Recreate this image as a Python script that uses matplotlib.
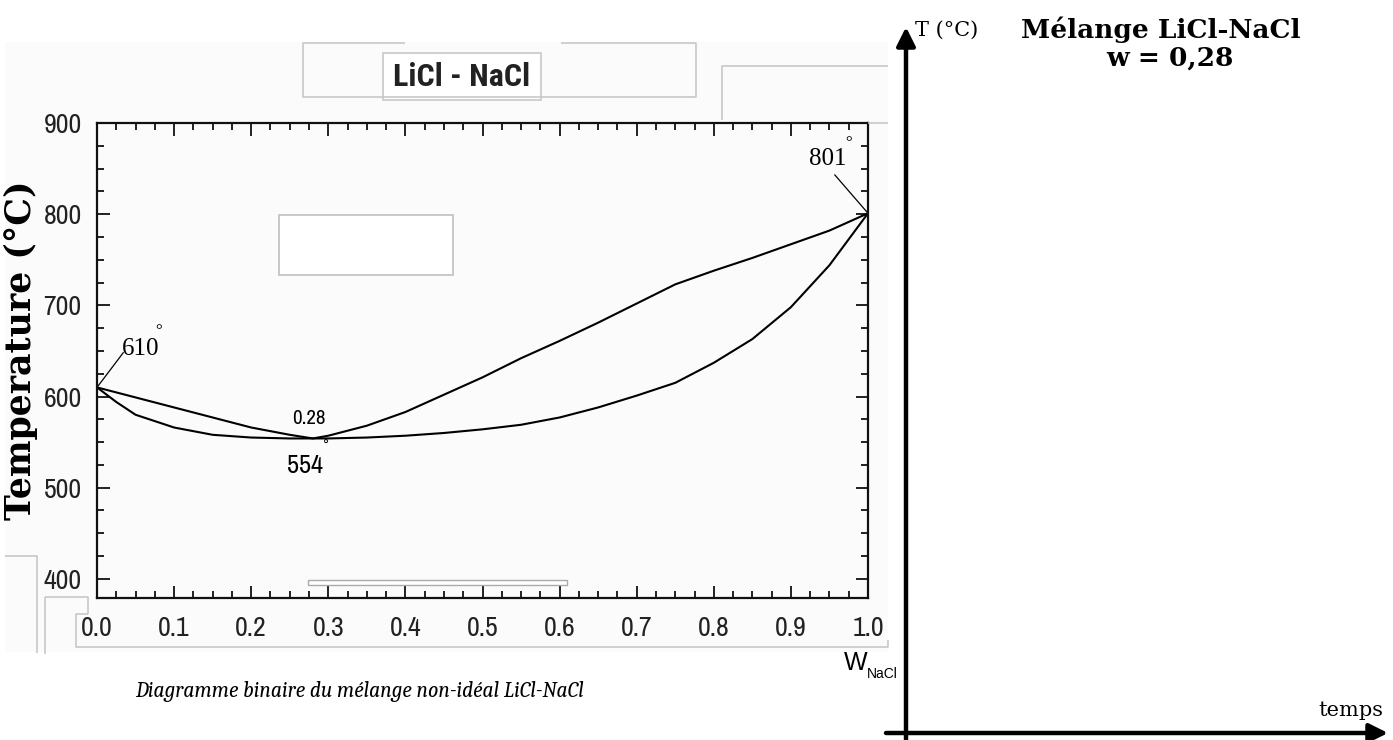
import matplotlib.pyplot as plt
from matplotlib.patches import Rectangle
from matplotlib.ticker import MultipleLocator

# LiCl-NaCl phase diagram (mass fraction of NaCl)
w_liquidus = [0.00, 0.05, 0.10, 0.15, 0.20, 0.25, 0.28, 0.30, 0.35, 0.40, 0.45,
              0.50, 0.55, 0.60, 0.65, 0.70, 0.75, 0.80, 0.85, 0.90, 0.95, 1.00]
T_liquidus = [610, 599, 588, 577, 566, 558, 554, 557, 568, 583, 602,
              621, 642, 661, 681, 702, 723, 738, 752, 767, 782, 801]

w_solidus = [0.00, 0.025, 0.05, 0.10, 0.15, 0.20, 0.25, 0.28, 0.30, 0.35, 0.40, 0.45,
             0.50, 0.55, 0.60, 0.65, 0.70, 0.75, 0.80, 0.85, 0.90, 0.95, 1.00]
T_solidus = [610, 594, 580, 566, 558, 555, 554, 554, 554, 555, 557, 560,
             564, 569, 577, 588, 601, 615, 637, 663, 698, 744, 801]

T_LiCl = 610
T_NaCl = 801
w_azeo = 0.28
T_azeo = 554

x_ticks = [0.0, 0.1, 0.2, 0.3, 0.4, 0.5, 0.6, 0.7, 0.8, 0.9, 1.0]
y_ticks = [400, 500, 600, 700, 800, 900]

W, H = 1393, 740
NARROW = ['Archivo Narrow', 'PT Sans Narrow', 'Roboto Condensed', 'DejaVu Sans']
BOLD_NARROW = ['Roboto Condensed', 'Open Sans Condensed', 'DejaVu Sans']
TIMES = ['Liberation Serif', 'DejaVu Serif']
CAMBRIA = ['Caladea', 'DejaVu Serif']
GREY = '#c4c4c4'


def fr(px, py):
    return px / W, 1 - py / H


fig = plt.figure(figsize=(W / 100, H / 100), dpi=100)
fig.patch.set_facecolor('white')

# background layer in pixel units
back = fig.add_axes([0, 0, 1, 1], zorder=0)
back.set_xlim(0, W)
back.set_ylim(H, 0)
back.axis('off')
back.add_patch(Rectangle((5, 42), 883, 610, facecolor='#fbfbfb', edgecolor='none'))

# main diagram
x0, y1 = fr(97, 598)
x1, y0 = fr(868, 123)
ax = fig.add_axes([x0, y1, x1 - x0, y0 - y1], zorder=2)
ax.set_facecolor('#fbfbfb')
ax.plot(w_liquidus, T_liquidus, color='black', lw=1.5)
ax.plot(w_solidus, T_solidus, color='black', lw=1.5)
ax.set_xlim(0, 1)
ax.set_ylim(379, 900)
ax.set_xticks(x_ticks)
ax.set_yticks(y_ticks)
ax.set_xticklabels([f'{v:.1f}' for v in x_ticks], family=NARROW, fontsize=20, color='#222222')
ax.set_yticklabels([str(v) for v in y_ticks], family=NARROW, fontsize=20, color='#222222')
ax.xaxis.set_minor_locator(MultipleLocator(0.025))
ax.yaxis.set_minor_locator(MultipleLocator(25))
ax.tick_params(which='both', direction='in', top=True, right=True, width=1.3, color='#111111')
ax.tick_params(which='major', length=9)
ax.tick_params(which='minor', length=5)
ax.tick_params(axis='x', which='major', pad=13)
ax.tick_params(axis='y', which='major', pad=11)
for s in ax.spines.values():
    s.set_linewidth(1.6)
    s.set_color('#111111')

# pure component and azeotrope labels
ax.plot([0, 0.034], [T_LiCl, 648], color='black', lw=0.9)
ax.text(0.057, 652, f'{T_LiCl}', family=TIMES, fontsize=18, ha='center', va='center')
ax.text(0.080, 672, '°', family=TIMES, fontsize=12, ha='center', va='center')
ax.plot([1.0, 0.957], [T_NaCl, 843], color='black', lw=0.9)
ax.text(0.948, 860, f'{T_NaCl}', family=TIMES, fontsize=18, ha='center', va='center')
ax.text(0.975, 878, '°', family=TIMES, fontsize=12, ha='center', va='center')
ax.text(w_azeo - 0.005, 576, f'{w_azeo}', family=NARROW, fontsize=15, ha='center', va='center')
ax.text(w_azeo - 0.01, 524, f'{T_azeo}', family=NARROW, fontsize=19, ha='center', va='center')
ax.text(w_azeo + 0.017, 546, '°', family=NARROW, fontsize=11, ha='center', va='center')

ax.set_ylabel('Temperature (°C)', family='DejaVu Serif', fontweight='bold', fontsize=25)
ax.yaxis.set_label_coords((38 - 97) / 771, (598 - 350) / 475)

# frames and overlays drawn above the diagram
front = fig.add_axes([0, 0, 1, 1], zorder=3)
front.set_xlim(0, W)
front.set_ylim(H, 0)
front.axis('off')


def seg(xs, ys):
    front.plot(xs, ys, color=GREY, lw=1.1, solid_capstyle='butt')


# title frame
seg([405, 303, 303, 696, 696, 561], [43, 43, 97, 97, 43, 43])
front.add_patch(Rectangle((383, 53), 158, 47, facecolor='white', edgecolor=GREY, lw=1.1))
front.text(462, 77, 'LiCl - NaCl', family=BOLD_NARROW, fontweight='bold', fontsize=23,
           color='#222222', ha='center', va='center')
seg([888, 722, 722], [66, 66, 120])
seg([868, 888], [123, 123])

# empty boxes inside the diagram
front.add_patch(Rectangle((279, 215), 174, 60, facecolor='white', edgecolor=GREY, lw=1.3))
front.add_patch(Rectangle((308, 580), 259, 5, facecolor='white', edgecolor='#aaaaaa', lw=1.0))

# tick label strip
seg([5, 37, 37], [556, 556, 653])
seg([45, 88, 88], [597, 597, 614])
seg([45, 45], [597, 654])
seg([88, 76, 76, 888, 888], [614, 614, 647, 647, 640])

front.text(856, 663, 'W', family='Liberation Sans', fontsize=18, ha='center', va='center')
front.text(867, 674, 'NaCl', family='Liberation Sans', fontsize=10, ha='left', va='center')
front.text(359, 692, 'Diagramme binaire du mélange non-idéal LiCl-NaCl',
           family=CAMBRIA, style='italic', fontsize=15.5, ha='center', va='center')

# empty cooling-curve frame on the right
arrow = dict(arrowstyle='-|>', lw=3.2, color='black', mutation_scale=28, shrinkA=0, shrinkB=0)
front.annotate('', xy=(906, 27), xytext=(906, 742), arrowprops=arrow)
front.annotate('', xy=(1388, 733), xytext=(886, 733), arrowprops=arrow)
front.text(947, 30, 'T (°C)', family='DejaVu Serif', fontsize=15, ha='center', va='center')
front.text(1383, 710, 'temps', family='DejaVu Serif', fontsize=15, ha='right', va='center')
front.text(1161, 30, 'Mélange LiCl-NaCl', family='DejaVu Serif', fontweight='bold',
           fontsize=19, ha='center', va='center')
front.text(1170, 58, 'w = 0,28', family='DejaVu Serif', fontweight='bold',
           fontsize=19, ha='center', va='center')

fig.savefig('out.png', dpi=100)
